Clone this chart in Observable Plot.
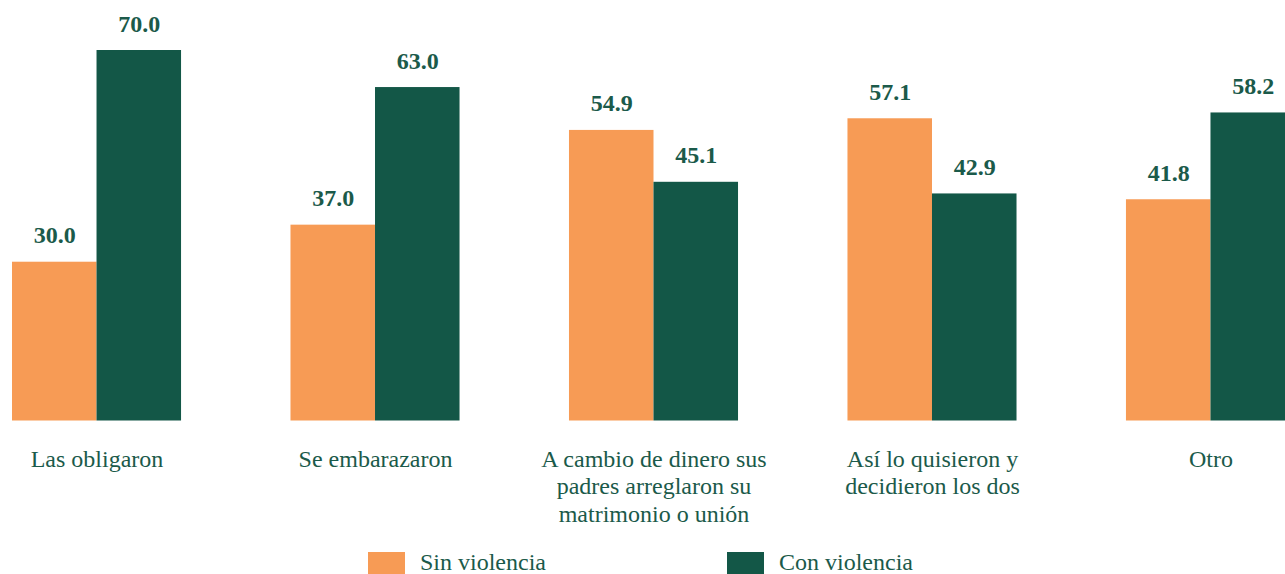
<!DOCTYPE html>
<html>
<head>
<meta charset="utf-8">
<script src="https://cdn.jsdelivr.net/npm/d3@7"></script>
<script src="https://cdn.jsdelivr.net/npm/@observablehq/plot@0.6"></script>
<style>
  html, body { margin: 0; padding: 0; background: #fff; width: 1285px; height: 574px; overflow: hidden; }
  #chart svg { display: block; overflow: hidden; }
  #legend { position: relative; height: 34px; margin-top: 12px; font-family: "Liberation Serif", "Times New Roman", serif; font-size: 24px; color: #1b5a4a; }
  .item { position: absolute; top: 0; display: flex; align-items: flex-start; white-space: nowrap; }
  .sw { width: 37px; height: 26px; margin-right: 15px; }
  .lab { line-height: 26px; margin-top: -3px; }
</style>
</head>
<body>
<div id="chart"></div>
<div id="legend"></div>
<script>
const categories = [
  "Las obligaron",
  "Se embarazaron",
  "A cambio de dinero sus\npadres arreglaron su\nmatrimonio o unión",
  "Así lo quisieron y\ndecidieron los dos",
  "Otro"
];
const seriesNames = ["Sin violencia", "Con violencia"];
const sinViolencia = [30.0, 37.0, 54.9, 57.1, 41.8];
const conViolencia = [70.0, 63.0, 45.1, 42.9, 58.2];
const seriesColors = ["#f79b55", "#135747"];
const textColor = "#1b5a4a";

const data = [];
categories.forEach((c, i) => {
  data.push({category: c, series: seriesNames[0], value: sinViolencia[i]});
  data.push({category: c, series: seriesNames[1], value: conViolencia[i]});
});

const chart = Plot.plot({
  width: 1285,
  height: 540,
  marginLeft: 12,
  marginRight: -10,
  marginTop: 50,
  marginBottom: 119.5,
  style: {fontFamily: "'Liberation Serif', 'Times New Roman', serif", background: "#fff"},
  fx: {domain: categories, paddingInner: 0.393, paddingOuter: 0, round: false},
  x: {domain: seriesNames, padding: 0, round: false, axis: null},
  y: {domain: [0, 70], axis: null},
  color: {domain: seriesNames, range: seriesColors},
  marks: [
    Plot.barY(data, {fx: "category", x: "series", y: "value", fill: "series"}),
    Plot.text(data, {
      fx: "category", x: "series", y: "value",
      text: d => d.value.toFixed(1),
      lineAnchor: "bottom", dy: -19,
      fontSize: 24, fontWeight: "bold", fill: textColor
    }),
    Plot.axisFx({
      anchor: "bottom", tickSize: 0, tickPadding: 26, label: null,
      fontSize: 24, lineHeight: 1.15, fill: textColor, color: textColor
    })
  ]
});
document.getElementById("chart").appendChild(chart);

const legend = document.getElementById("legend");
const lefts = [368, 727];
seriesNames.forEach((name, i) => {
  const item = document.createElement("div");
  item.className = "item";
  item.style.left = lefts[i] + "px";
  const sw = document.createElement("div");
  sw.className = "sw";
  sw.style.background = seriesColors[i];
  const lab = document.createElement("div");
  lab.className = "lab";
  lab.textContent = name;
  item.appendChild(sw);
  item.appendChild(lab);
  legend.appendChild(item);
});
</script>
</body>
</html>
